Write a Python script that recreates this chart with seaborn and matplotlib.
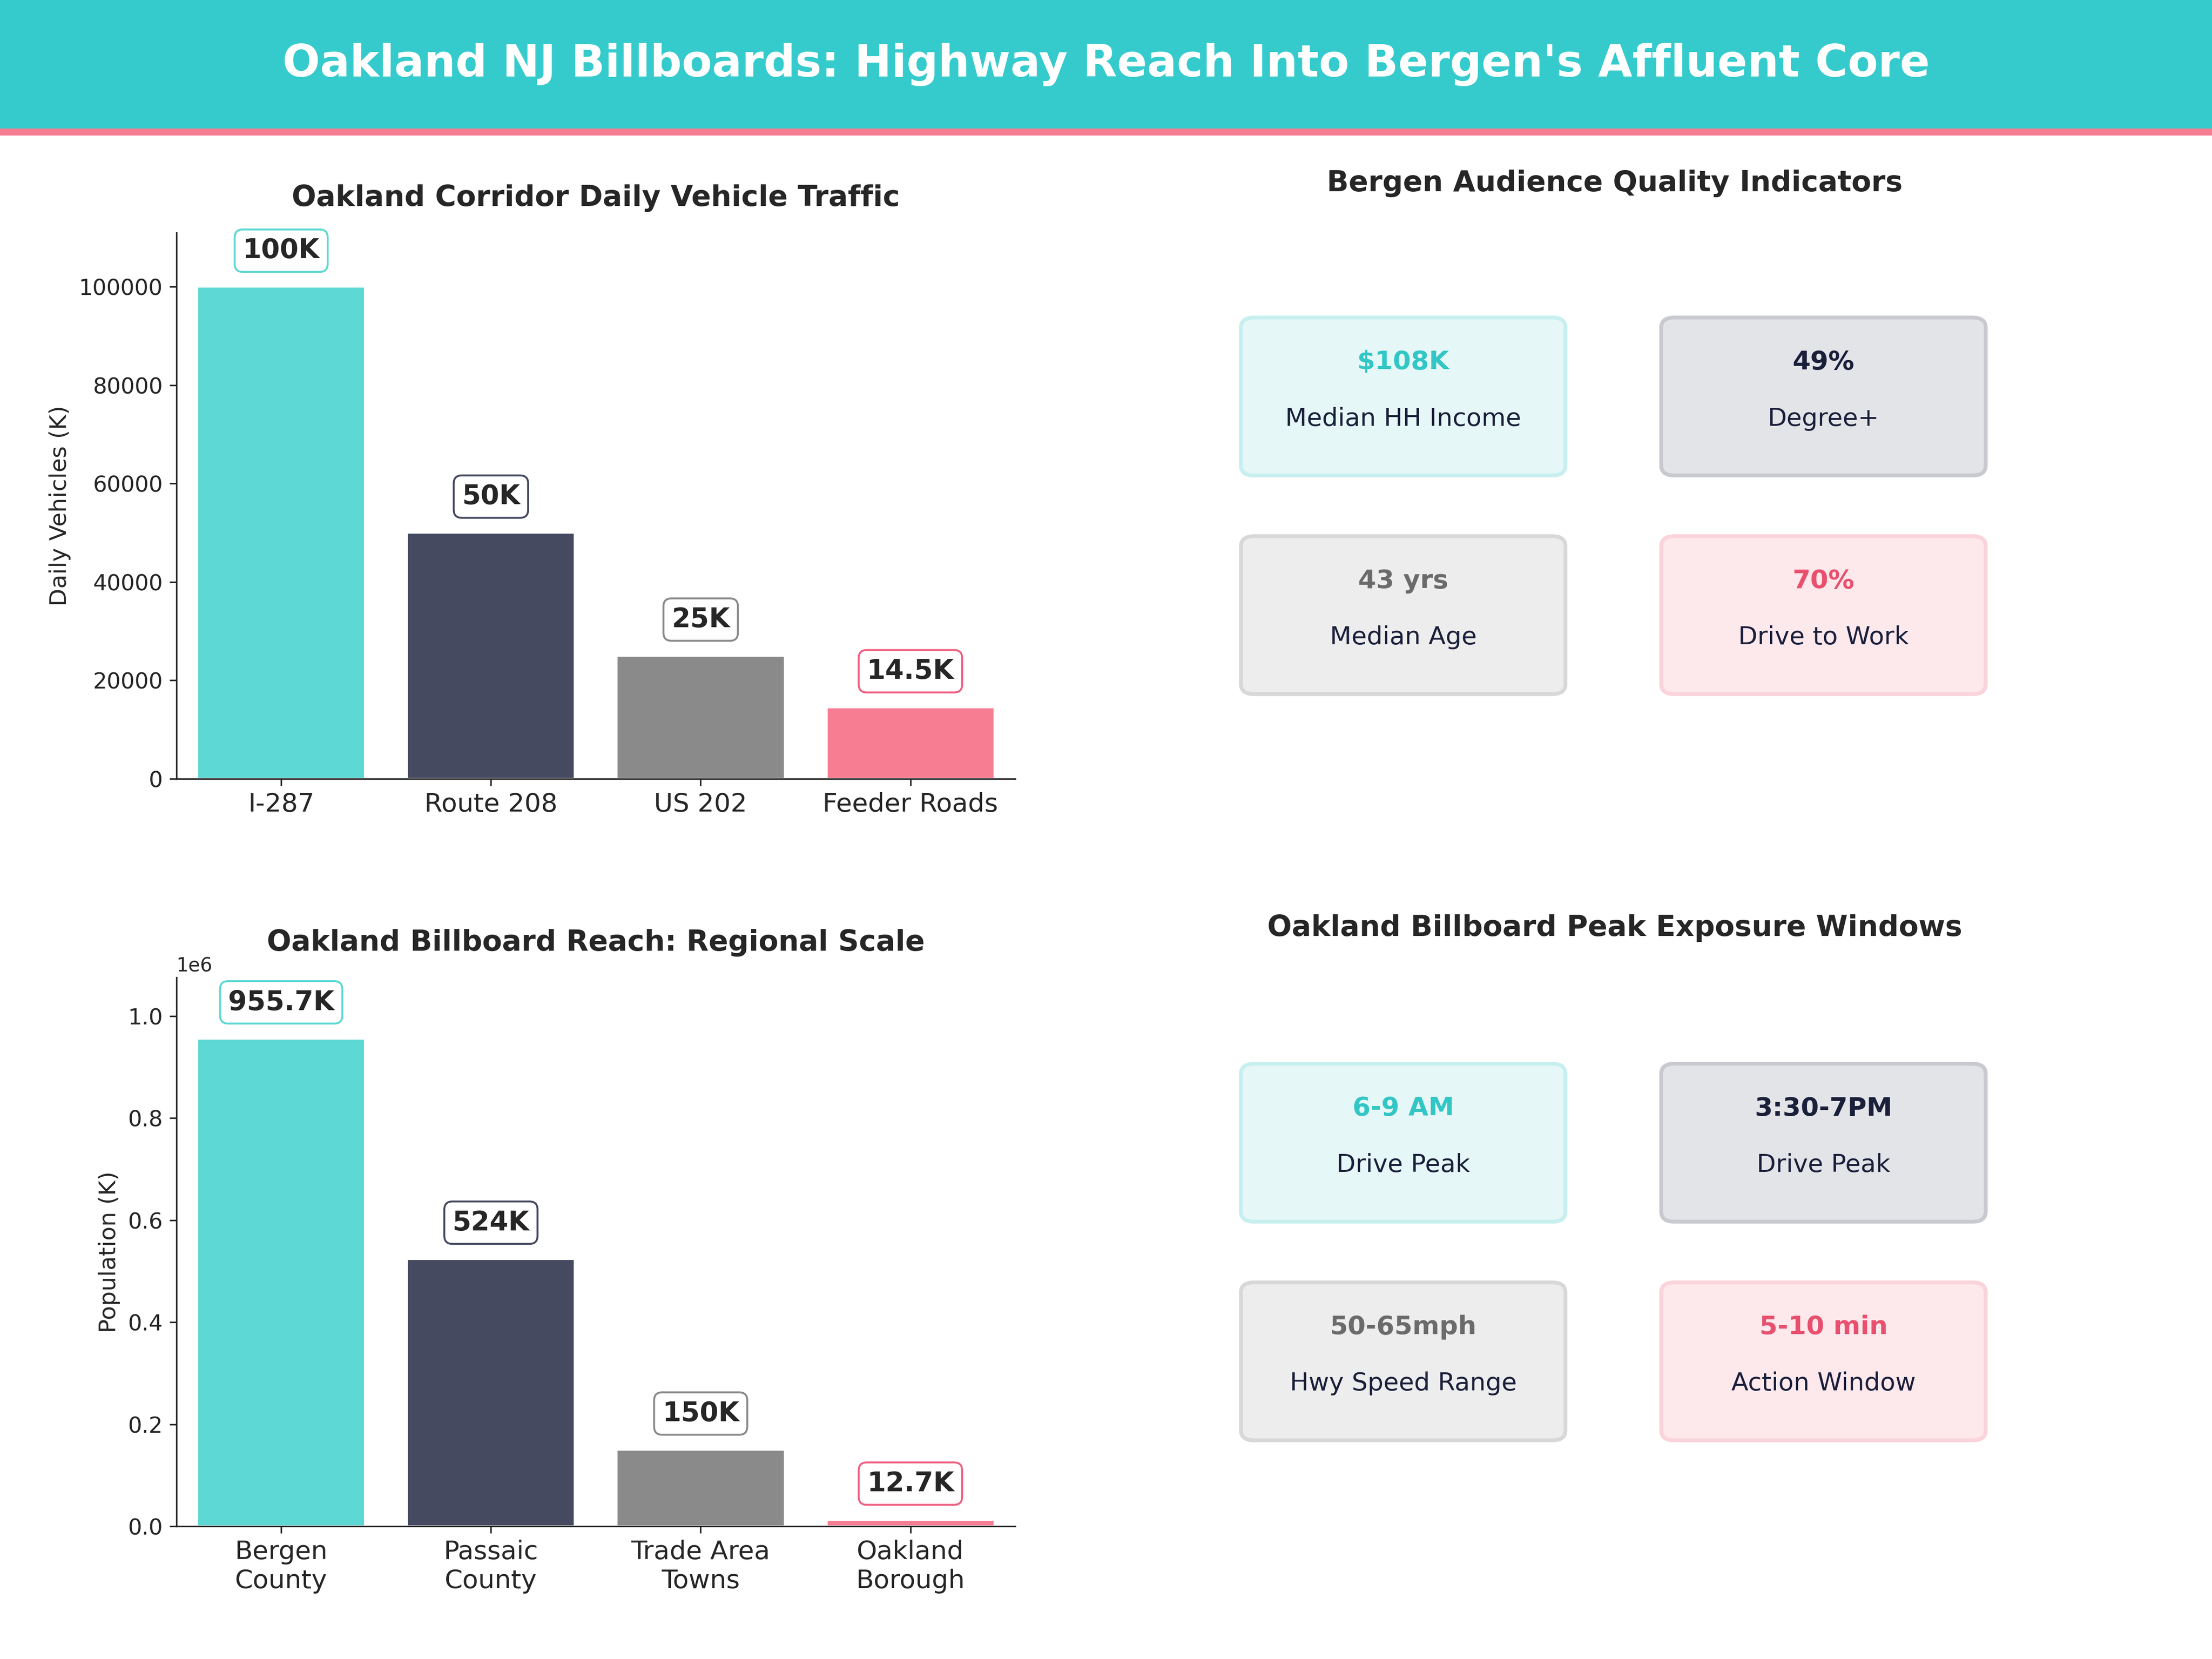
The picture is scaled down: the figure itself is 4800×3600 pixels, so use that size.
import matplotlib
matplotlib.use("Agg")
import matplotlib.pyplot as plt
import seaborn as sns
import pandas as pd
from matplotlib.patches import FancyBboxPatch, Rectangle

sns.set_style("ticks")
plt.rcParams['font.family'] = ['DejaVu Sans']

traffic_cats = ["I-287", "Route 208", "US 202", "Feeder Roads"]
traffic_vals = [100000, 50000, 25000, 14500]
traffic_labels = ["100K", "50K", "25K", "14.5K"]
reach_cats = ["Bergen\nCounty", "Passaic\nCounty", "Trade Area\nTowns", "Oakland\nBorough"]
reach_vals = [955700, 524000, 150000, 12700]
reach_labels = ["955.7K", "524K", "150K", "12.7K"]
aud_values = ["$108K", "49%", "43 yrs", "70%"]
aud_labels = ["Median HH Income", "Degree+", "Median Age", "Drive to Work"]
peak_values = ["6-9 AM", "3:30-7PM", "50-65mph", "5-10 min"]
peak_labels = ["Drive Peak", "Drive Peak", "Hwy Speed Range", "Action Window"]

bar_colors = ["#5DD8D4", "#464A60", "#8A8A8A", "#F67D92"]
edge_colors = ["#5DD8D4", "#464A60", "#8A8A8A", "#F06080"]
text_colors = ["#33C6C6", "#1A1F3A", "#6B6B6B", "#E8506E"]
fill_colors = ["#E6F7F7", "#E3E4E8", "#EDEDED", "#FDE8EC"]
card_edges = ["#C8EFEF", "#C9CAD0", "#D8D8D8", "#FAD3DB"]

fig = plt.figure(figsize=(16, 12), dpi=300)
fig.patches.append(Rectangle((0, 0.9218), 1, 0.0782, transform=fig.transFigure, color="#35CBCC", zorder=0))
fig.patches.append(Rectangle((0, 0.919), 1, 0.003, transform=fig.transFigure, color="#F67D92", zorder=0))
fig.text(0.5, 0.961, "Oakland NJ Billboards: Highway Reach Into Bergen's Affluent Core",
         ha="center", va="center", color="white", fontsize=23, fontweight="bold")

def barpanel(rect, cats, vals, labels, title, ylabel, top):
    ax = fig.add_axes(rect)
    df = pd.DataFrame({"c": cats, "v": vals})
    sns.barplot(data=df, x="c", y="v", hue="c", palette=bar_colors, legend=False, ax=ax, width=0.8, saturation=1)
    ax.set_ylim(0, top)
    ax.set_xlabel("")
    ax.set_ylabel(ylabel, fontsize=12)
    ax.set_title(title, fontsize=15, fontweight="bold", pad=14)
    ax.tick_params(axis="x", labelsize=13.5)
    ax.tick_params(axis="y", labelsize=11.5)
    sns.despine(ax=ax)
    for i, (v, l) in enumerate(zip(vals, labels)):
        ax.annotate(l, (i, v), xytext=(0, 12), textcoords="offset points", ha="center", va="bottom",
                    fontsize=14, fontweight="bold",
                    bbox=dict(boxstyle="round,pad=0.3", fc="white", ec=edge_colors[i], lw=1))
    return ax

barpanel([0.0797, 0.5306, 0.3793, 0.3291], traffic_cats, traffic_vals, traffic_labels,
         "Oakland Corridor Daily Vehicle Traffic", "Daily Vehicles (K)", 111000)
barpanel([0.0797, 0.08, 0.3793, 0.3307], reach_cats, reach_vals, reach_labels,
         "Oakland Billboard Reach: Regional Scale", "Population (K)", 1.075e6)

def cards(title, title_y, bottoms, values, labels):
    fig.text(0.73, title_y, title, ha="center", va="center", fontsize=15, fontweight="bold")
    xs = [0.561, 0.751]
    w, h = 0.1467, 0.0952
    for k in range(4):
        x = xs[k % 2]; y = bottoms[k // 2]
        fig.patches.append(FancyBboxPatch((x, y), w, h, boxstyle="round,pad=0,rounding_size=0.006",
                                          transform=fig.transFigure, fc=fill_colors[k], ec=card_edges[k], lw=2))
        fig.text(x + w / 2, y + h - 0.027, values[k], ha="center", va="center",
                 fontsize=13.5, fontweight="bold", color=text_colors[k])
        fig.text(x + w / 2, y + h - 0.061, labels[k], ha="center", va="center", fontsize=13, color="#1A1F3A")

cards("Bergen Audience Quality Indicators", 1 - 130 / 1176, [0.7134, 0.5816], aud_values, aud_labels)
cards("Oakland Billboard Peak Exposure Windows", 1 - 658 / 1176, [0.2636, 0.1318], peak_values, peak_labels)

fig.savefig("out.png", dpi=300)
